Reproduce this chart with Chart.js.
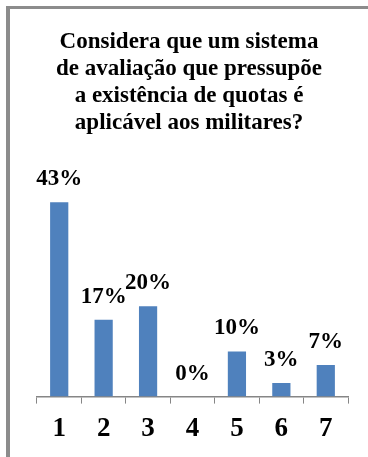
<!DOCTYPE html>
<html lang="pt">
  <head>
    <meta charset="UTF-8" />
    <title>Quotas</title>
    <style>
      html,
      body {
        margin: 0;
        overflow: hidden;
        background: #ffffff;
      }
      #frame {
        position: absolute;
        left: 6px;
        top: 6px;
        width: 372px;
        height: 460px;
        border-left: 4px solid #8c8c8c;
        border-top: 3px solid #8c8c8c;
        background: #ffffff;
      }
      canvas {
        display: block;
      }
    </style>
    <script src="https://cdn.jsdelivr.net/npm/chart.js"></script>
  </head>
  <body>
    <div id="frame"><canvas id="chart" width="358" height="448"></canvas></div>
    <script>
      const categories = ["1", "2", "3", "4", "5", "6", "7"];
      const percentages = [43, 17, 20, 0, 10, 3, 7];
      const titleLines = [
        "Considera que um sistema",
        "de avaliação que pressupõe",
        "a existência de quotas é",
        "aplicável aos militares?",
      ];

      const serif = '"Liberation Serif", "Times New Roman", serif';

      // question text, centred over the whole box rather than the plot
      const questionTitle = {
        id: "questionTitle",
        afterDraw(chart) {
          const ctx = chart.ctx;
          ctx.save();
          ctx.font = "bold 23px " + serif;
          ctx.fillStyle = "#000";
          ctx.textAlign = "center";
          ctx.textBaseline = "middle";
          titleLines.forEach((line, i) => {
            ctx.fillText(line, 179, 33 + i * 27);
          });
          ctx.restore();
        },
      };

      // writes the percentage above each bar
      const valueLabels = {
        id: "valueLabels",
        afterDatasetsDraw(chart) {
          const ctx = chart.ctx;
          const meta = chart.getDatasetMeta(0);
          ctx.save();
          ctx.font = "bold 23px " + serif;
          ctx.fillStyle = "#000";
          ctx.textAlign = "center";
          ctx.textBaseline = "middle";
          meta.data.forEach((bar, i) => {
            ctx.fillText(percentages[i] + "%", bar.x, bar.y - 23);
          });
          ctx.restore();
        },
      };

      new Chart(document.getElementById("chart"), {
        type: "bar",
        data: {
          labels: categories,
          datasets: [
            {
              data: percentages,
              backgroundColor: "#4f81bd",
              barPercentage: 0.41,
              categoryPercentage: 1.0,
            },
          ],
        },
        options: {
          responsive: false,
          animation: false,
          devicePixelRatio: 1,
          layout: {
            padding: { left: 27, right: 20, top: 148, bottom: 3 },
          },
          plugins: {
            legend: { display: false },
            tooltip: { enabled: false },
            title: { display: false },
          },
          scales: {
            x: {
              grid: {
                offset: true,
                drawOnChartArea: false,
                drawTicks: true,
                tickLength: 7,
                color: "#868686",
              },
              border: { display: true, color: "#868686", width: 1.5 },
              ticks: {
                color: "#000",
                padding: 9,
                font: { family: serif, size: 27, weight: "bold" },
              },
            },
            y: {
              display: false,
              min: 0,
              max: 53,
            },
          },
        },
        plugins: [valueLabels, questionTitle],
      });
    </script>
  </body>
</html>
